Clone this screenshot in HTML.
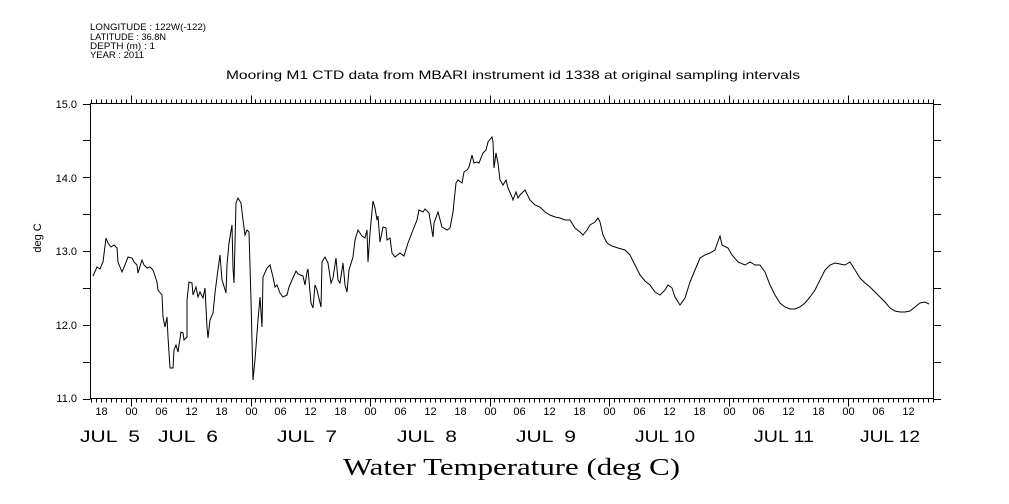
<!DOCTYPE html>
<html><head><meta charset="utf-8"><style>
html,body{margin:0;padding:0;background:#fff;}
svg{display:block;}
text{font-family:"Liberation Sans",sans-serif;fill:#000;white-space:pre;}
</style></head><body>
<svg width="1009" height="504" viewBox="0 0 1009 504" xmlns="http://www.w3.org/2000/svg">
<g font-size="9">
<text x="90" y="30" textLength="116" lengthAdjust="spacingAndGlyphs">LONGITUDE : 122W(-122)</text>
<text x="90" y="40" textLength="76" lengthAdjust="spacingAndGlyphs">LATITUDE : 36.8N</text>
<text x="90" y="49" textLength="65" lengthAdjust="spacingAndGlyphs">DEPTH (m) : 1</text>
<text x="90" y="58" textLength="54" lengthAdjust="spacingAndGlyphs">YEAR : 2011</text>
</g>
<text x="226" y="79" font-size="12" textLength="574" lengthAdjust="spacingAndGlyphs">Mooring M1 CTD data from MBARI instrument id 1338 at original sampling intervals</text>
<rect x="90.5" y="103.5" width="843" height="295" fill="none" stroke="#000" stroke-width="1"/>
<g id="ticks" stroke="#000" stroke-width="1"></g>
<g font-size="11" text-anchor="end">
<text x="77" y="108">15.0</text>
<text x="77" y="182">14.0</text>
<text x="77" y="255">13.0</text>
<text x="77" y="329">12.0</text>
<text x="77" y="402">11.0</text>
</g>
<text transform="translate(41,238) rotate(-90)" font-size="11" text-anchor="middle">deg C</text>
<g font-size="11" text-anchor="middle" id="hl"></g>
<g font-size="17">
<text x="80" y="442" textLength="60" lengthAdjust="spacingAndGlyphs">JUL  5</text>
<text x="158" y="442" textLength="60" lengthAdjust="spacingAndGlyphs">JUL  6</text>
<text x="277" y="442" textLength="60" lengthAdjust="spacingAndGlyphs">JUL  7</text>
<text x="397" y="442" textLength="60" lengthAdjust="spacingAndGlyphs">JUL  8</text>
<text x="516" y="442" textLength="60" lengthAdjust="spacingAndGlyphs">JUL  9</text>
<text x="635" y="442" textLength="60" lengthAdjust="spacingAndGlyphs">JUL 10</text>
<text x="754" y="442" textLength="60" lengthAdjust="spacingAndGlyphs">JUL 11</text>
<text x="860" y="442" textLength="60" lengthAdjust="spacingAndGlyphs">JUL 12</text>
</g>
<text x="343" y="475" font-size="24" textLength="337" lengthAdjust="spacingAndGlyphs" style="font-family:'Liberation Serif',serif">Water Temperature (deg C)</text>
<polyline fill="none" stroke="#000" stroke-width="1" points="
93,276 97,267 100,269 103,262 106,238 108,243 111,247 114,245 117,248 118,262 122,272 125,265 128,257 132,258 134,262 137,265 138,273 142,260 144,265 147,268 150,267 153,270 157,282 158,290 162,295 163,317 165,327 167,317 168,337 170,368 173,368 174,350 176,345 178,352 181,332 183,333 184,340 187,337 187,300 189,282 192,283 193,295 196,287 198,297 200,292 203,298 205,288 207,327 208,338 210,320 213,313 215,293 217,277 220,255 222,280 223,283 226,293 227,265 229,243 232,225 233,268 234,283 236,203 238,198 241,203 243,220 245,235 247,230 249,232 251,300 253,380 255,360 258,320 260,297 262,327 263,277 267,268 270,265 273,277 275,287 277,285 280,293 283,297 287,295 289,287
292,280 296,271 298,274 303,276 305,285 307,272 308,269 311,303 313,308 315,285 317,290 321,307 322,262 325,257 328,263 331,283 333,278 336,258 338,280 340,283 343,263 345,285 347,292 349,270 353,257 355,240 358,230 362,236 365,238 367,230 368,262 370,233 373,201 375,208 377,220 378,216 380,242 383,227 386,228 387,240 390,238 392,253 395,257 400,253 404,256 408,243 413,230 417,220 419,210 423,212 425,209 429,213 433,237 434,223 438,212 442,227 447,230 450,228 453,212 456,183 458,180 462,183 464,172 467,170 469,167 472,155 474,163 477,162 479,163 483,153 486,150 488,142 492,137 493,142 494,168 496,153 498,163 500,180 503,185 506,180 508,188 512,197 513,200 516,192 518,198 520,195
525,190 530,200 535,205 540,207 545,212 550,215 555,217 560,218 565,220 570,220 575,228 580,232 583,235 587,230 590,225 595,222 598,218 600,222 603,235 607,243 612,246 618,248 625,250 630,255 635,265 640,275 645,281 650,285 655,292 660,295 665,290 668,285 672,288 675,297 680,305 685,298 690,282 695,270 700,258 705,255 710,253 715,250 717,244 720,236 722,245 728,248 732,255 738,262 745,265 750,262 755,265 760,265 765,272 770,285 775,295 780,303 785,307 790,309 795,309 800,307 805,303 810,297 815,290 820,280 825,270 830,265 835,263 840,264 845,265 850,262 855,270 860,278 865,283 870,287 875,292 880,297 885,302 890,308 895,311 900,312 905,312 910,311 915,307 920,303 925,302 929,304"/>
</svg>
<script>
(function(){
var ns="http://www.w3.org/2000/svg",g=document.getElementById('ticks'),hl=document.getElementById('hl');
function L(x1,y1,x2,y2){var l=document.createElementNS(ns,'line');l.setAttribute('x1',x1);l.setAttribute('y1',y1);l.setAttribute('x2',x2);l.setAttribute('y2',y2);g.appendChild(l);}
var x0=131,pd=119.5;
for(var h=-8;h<=6*24+17;h++){var x=Math.round(x0+pd*h/24)+0.5;if(x<90||x>934)continue;
 var hh=((h%24)+24)%24,len=(hh==0)?8:4;
 L(x,103.5,x,103.5-len);L(x,398.5,x,398.5+len);
 if(hh%6==0){var t=document.createElementNS(ns,'text');t.setAttribute('x',x);t.setAttribute('y',415);t.textContent=(hh<10?'0':'')+hh;hl.appendChild(t);}
}
for(var v=11;v<=15.001;v+=0.5){var y=Math.round(398.5-(v-11)*73.75)+0.5;L(90.5,y,83,y);L(933.5,y,941,y);}
})();
</script>
</body></html>
